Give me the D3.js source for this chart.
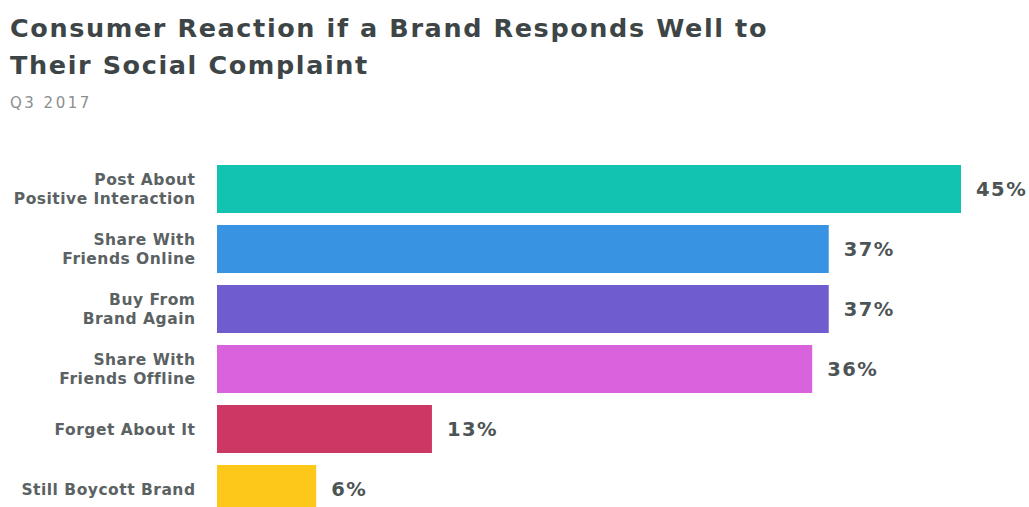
<!DOCTYPE html>
<html>
<head>
<meta charset="utf-8">
<script src="https://cdn.jsdelivr.net/npm/d3@7"></script>
<style>
  html, body { margin: 0; padding: 0; background: #fff; }
  svg { display: block; }
</style>
</head>
<body>
<svg id="chart" width="1029" height="507"></svg>
<script>
// Survey reactions (share of consumers, %)
const categories = [
  "Post About|Positive Interaction",
  "Share With|Friends Online",
  "Buy From|Brand Again",
  "Share With|Friends Offline",
  "Forget About It",
  "Still Boycott Brand"
];
const values = [45, 37, 37, 36, 13, 6];
const barColors = ["#12c3b1", "#3993e3", "#6f5ccf", "#d963dc", "#cc3763", "#fdc81a"];

const titleLines = ["Consumer Reaction if a Brand Responds Well to", "Their Social Complaint"];
const subtitle = "Q3 2017";

const svg = d3.select("#chart");
const font = "'DejaVu Sans', sans-serif";

// Title block
svg.append("g").selectAll("text")
  .data(titleLines)
  .join("text")
  .attr("x", 10)
  .attr("y", (d, i) => 37 + i * 37)
  .attr("font-family", font)
  .attr("font-weight", 700)
  .attr("font-size", 25.5)
  .attr("letter-spacing", 1.6)
  .attr("fill", "#3d4546")
  .text(d => d);

svg.append("text")
  .attr("x", 10)
  .attr("y", 108)
  .attr("font-family", font)
  .attr("font-size", 15)
  .attr("letter-spacing", 2.5)
  .attr("fill", "#8a8f90")
  .text(subtitle);

// Scales
const x = d3.scaleLinear().domain([0, 45]).range([217, 961]);
const y = d3.scaleBand().domain(categories).range([165, 513]).paddingInner(0.2).paddingOuter(0);

const rows = svg.append("g").selectAll("g")
  .data(categories.map((c, i) => ({ c, v: values[i], color: barColors[i] })))
  .join("g");

rows.append("rect")
  .attr("x", x(0))
  .attr("y", d => y(d.c))
  .attr("width", d => x(d.v) - x(0))
  .attr("height", y.bandwidth())
  .attr("fill", d => d.color);

rows.append("text")
  .attr("x", d => x(d.v) + 15)
  .attr("y", d => y(d.c) + y.bandwidth() / 2)
  .attr("dy", "0.36em")
  .attr("font-family", font)
  .attr("font-weight", 700)
  .attr("font-size", 19.5)
  .attr("letter-spacing", 1.5)
  .attr("fill", "#4d5455")
  .text(d => d.v + "%");

// Category labels, right-aligned, one or two lines
rows.each(function(d) {
  const lines = d.c.split("|");
  const cy = y(d.c) + y.bandwidth() / 2;
  const lh = 18.5;
  const t = d3.select(this).append("text")
    .attr("text-anchor", "end")
    .attr("font-family", font)
    .attr("font-weight", 700)
    .attr("font-size", 15.5)
    .attr("letter-spacing", 0.5)
    .attr("fill", "#5b6263");
  lines.forEach((ln, i) => {
    t.append("tspan")
      .attr("x", 195.5)
      .attr("y", cy + (i - (lines.length - 1) / 2) * lh)
      .attr("dy", "0.36em")
      .text(ln);
  });
});
</script>
</body>
</html>
